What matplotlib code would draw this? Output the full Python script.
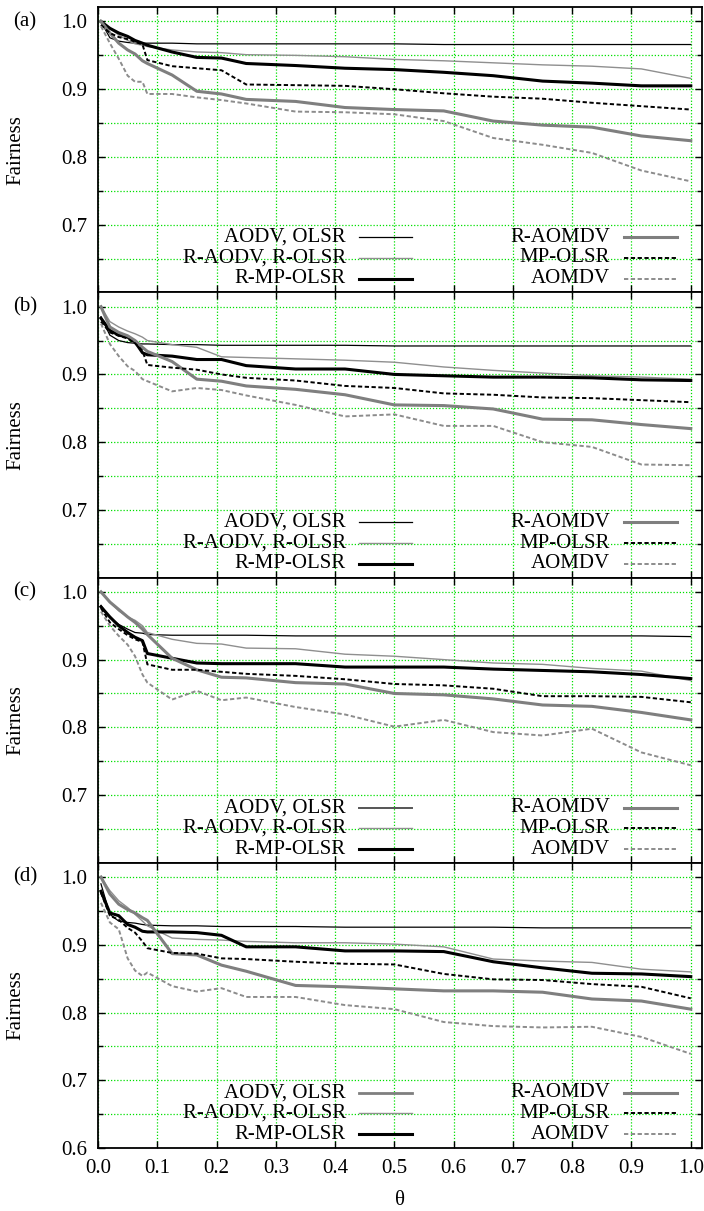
import numpy as np
import matplotlib.pyplot as plt
import matplotlib.transforms as mtransforms
from matplotlib.lines import Line2D
from matplotlib.ticker import MultipleLocator, FormatStrFormatter

plt.rcParams['font.family'] = ['Liberation Serif', 'DejaVu Serif']

# common theta grid
theta = [0.005, 0.02, 0.035, 0.05, 0.0625, 0.075, 0.0833, 0.125, 0.1667, 0.2083,
         0.25, 0.3333, 0.4167, 0.5, 0.5833, 0.6667, 0.75, 0.8333, 0.9167, 1.0]

names = ['AODV, OLSR', 'R-AODV, R-OLSR', 'R-MP-OLSR', 'R-AOMDV', 'MP-OLSR', 'AOMDV']

# panel (a)
a_aodv = [1.0, 0.976, 0.971, 0.969, 0.968, 0.968, 0.968, 0.968, 0.967, 0.967,
          0.967, 0.967, 0.967, 0.967, 0.966, 0.966, 0.966, 0.966, 0.966, 0.966]
a_raodv = [1.0, 0.99, 0.98, 0.972, 0.967, 0.965, 0.963, 0.958, 0.955, 0.954,
           0.951, 0.950, 0.948, 0.944, 0.942, 0.939, 0.936, 0.934, 0.930, 0.916]
a_rmpolsr = [1.0, 0.99, 0.983, 0.978, 0.972, 0.968, 0.965, 0.955, 0.947, 0.946,
             0.938, 0.935, 0.931, 0.929, 0.925, 0.920, 0.912, 0.909, 0.905, 0.905]
a_raomdv = [1.0, 0.983, 0.968, 0.958, 0.952, 0.942, 0.938, 0.921, 0.897, 0.893,
            0.885, 0.882, 0.873, 0.870, 0.868, 0.853, 0.847, 0.844, 0.831, 0.824]
a_mpolsr = [0.995, 0.983, 0.977, 0.974, 0.970, 0.966, 0.943, 0.934, 0.931, 0.928,
            0.907, 0.906, 0.905, 0.900, 0.894, 0.889, 0.886, 0.880, 0.875, 0.870]
a_aomdv = [0.993, 0.968, 0.945, 0.920, 0.911, 0.911, 0.893, 0.893, 0.888, 0.884,
           0.879, 0.867, 0.866, 0.863, 0.853, 0.828, 0.818, 0.806, 0.780, 0.764]

# panel (b)
b_aodv = [0.985, 0.958, 0.950, 0.947, 0.946, 0.945, 0.945, 0.944, 0.944, 0.943,
          0.943, 0.943, 0.943, 0.942, 0.942, 0.942, 0.942, 0.942, 0.942, 0.942]
b_raodv = [1.0, 0.978, 0.970, 0.964, 0.960, 0.955, 0.950, 0.944, 0.940, 0.926,
           0.925, 0.923, 0.921, 0.918, 0.911, 0.906, 0.902, 0.898, 0.896, 0.893]
b_rmpolsr = [0.983, 0.965, 0.958, 0.955, 0.948, 0.932, 0.929, 0.927, 0.922, 0.922,
             0.913, 0.908, 0.908, 0.900, 0.898, 0.896, 0.896, 0.895, 0.892, 0.891]
b_raomdv = [1.0, 0.970, 0.962, 0.957, 0.950, 0.940, 0.934, 0.919, 0.893, 0.890,
            0.883, 0.878, 0.870, 0.855, 0.854, 0.849, 0.834, 0.833, 0.826, 0.820]
b_mpolsr = [0.978, 0.962, 0.957, 0.953, 0.946, 0.935, 0.914, 0.910, 0.907, 0.900,
            0.895, 0.891, 0.883, 0.880, 0.872, 0.870, 0.866, 0.865, 0.862, 0.859]
b_aomdv = [0.975, 0.945, 0.927, 0.912, 0.905, 0.893, 0.890, 0.875, 0.880, 0.877,
           0.869, 0.855, 0.838, 0.841, 0.824, 0.824, 0.800, 0.793, 0.767, 0.766]

# panel (c)
c_aodv = [0.980, 0.962, 0.952, 0.945, 0.940, 0.939, 0.937, 0.936, 0.936, 0.936,
          0.936, 0.935, 0.935, 0.935, 0.935, 0.935, 0.935, 0.935, 0.935, 0.934]
c_raodv = [1.0, 0.985, 0.972, 0.963, 0.958, 0.950, 0.940, 0.930, 0.924, 0.923,
           0.917, 0.916, 0.908, 0.905, 0.900, 0.895, 0.893, 0.887, 0.883, 0.869]
c_rmpolsr = [0.978, 0.963, 0.950, 0.940, 0.933, 0.928, 0.909, 0.902, 0.895, 0.894,
             0.894, 0.894, 0.889, 0.889, 0.889, 0.886, 0.884, 0.882, 0.878, 0.872]
c_raomdv = [1.0, 0.985, 0.974, 0.963, 0.955, 0.945, 0.937, 0.902, 0.885, 0.874,
            0.873, 0.866, 0.864, 0.850, 0.848, 0.842, 0.833, 0.831, 0.822, 0.811]
c_mpolsr = [0.976, 0.955, 0.945, 0.936, 0.930, 0.926, 0.893, 0.885, 0.885, 0.882,
            0.879, 0.876, 0.871, 0.864, 0.862, 0.857, 0.846, 0.846, 0.845, 0.837]
c_aomdv = [0.971, 0.950, 0.935, 0.922, 0.905, 0.878, 0.866, 0.841, 0.854, 0.840,
           0.844, 0.830, 0.819, 0.801, 0.811, 0.793, 0.788, 0.798, 0.763, 0.744]

# panel (d)
d_aodv = [0.990, 0.945, 0.935, 0.933, 0.932, 0.930, 0.929, 0.928, 0.928, 0.927,
          0.927, 0.927, 0.926, 0.926, 0.926, 0.926, 0.925, 0.925, 0.925, 0.925]
d_raodv = [1.0, 0.980, 0.965, 0.955, 0.945, 0.935, 0.928, 0.910, 0.908, 0.907,
           0.905, 0.903, 0.903, 0.901, 0.897, 0.879, 0.876, 0.874, 0.864, 0.860]
d_rmpolsr = [0.979, 0.947, 0.943, 0.930, 0.926, 0.920, 0.919, 0.919, 0.918, 0.914,
             0.897, 0.897, 0.891, 0.891, 0.890, 0.875, 0.866, 0.858, 0.857, 0.853]
d_raomdv = [1.0, 0.975, 0.960, 0.952, 0.947, 0.940, 0.936, 0.887, 0.885, 0.870,
            0.861, 0.840, 0.838, 0.835, 0.832, 0.832, 0.830, 0.820, 0.817, 0.805]
d_mpolsr = [0.977, 0.943, 0.937, 0.925, 0.918, 0.905, 0.895, 0.888, 0.887, 0.880,
            0.879, 0.875, 0.872, 0.871, 0.857, 0.849, 0.848, 0.842, 0.838, 0.821]
d_aomdv = [0.962, 0.933, 0.923, 0.880, 0.862, 0.854, 0.859, 0.839, 0.831, 0.836,
           0.823, 0.823, 0.811, 0.805, 0.786, 0.780, 0.778, 0.779, 0.764, 0.739]

panels = [
    ('(a)', [a_aodv, a_raodv, a_rmpolsr, a_raomdv, a_mpolsr, a_aomdv]),
    ('(b)', [b_aodv, b_raodv, b_rmpolsr, b_raomdv, b_mpolsr, b_aomdv]),
    ('(c)', [c_aodv, c_raodv, c_rmpolsr, c_raomdv, c_mpolsr, c_aomdv]),
    ('(d)', [d_aodv, d_raodv, d_rmpolsr, d_raomdv, d_mpolsr, d_aomdv]),
]

dash = (0, (2.2, 1.3))
styles = [
    dict(color='black', lw=0.9),
    dict(color='#8f8f8f', lw=1.0),
    dict(color='black', lw=2.2),
    dict(color='#7f7f7f', lw=2.2),
    dict(color='black', lw=1.4, ls=dash),
    dict(color='#8c8c8c', lw=1.4, ls=dash),
]
green = '#00e000'
fs = 15

fig, axes = plt.subplots(4, 1, figsize=(7.04, 12.11), dpi=100, sharex=True)
fig.subplots_adjust(left=0.1392, right=0.9972, top=0.994, bottom=0.052, hspace=0)

leg_text_x = [0.410, 0.848]
leg_line_x = [(0.432, 0.520), (0.871, 0.958)]
leg_row_y = [0.1936, 0.1214, 0.0479]

for k, (ax, (label, series)) in enumerate(zip(axes, panels)):
    for name, y, st in zip(names, series, styles):
        ax.plot(theta, y, **st)

    ax.set_xlim(0, 1.019)
    ax.set_ylim(0.6, 1.021)
    ax.xaxis.set_major_locator(MultipleLocator(0.1))
    ax.xaxis.set_major_formatter(FormatStrFormatter('%.1f'))
    ax.yaxis.set_minor_locator(MultipleLocator(0.05))
    yt = [0.6, 0.7, 0.8, 0.9, 1.0]
    ax.set_yticks(yt)
    ax.set_yticklabels(['0.6' if k == 3 else ''] + ['%.1f' % v for v in yt[1:]])

    ax.grid(True, which='major', axis='both', color=green, ls=(0, (1, 1.5)), lw=0.9)
    ax.grid(True, which='minor', axis='y', color=green, ls=(0, (1, 1.5)), lw=0.9)
    ax.set_axisbelow(True)
    ax.tick_params(which='both', direction='in', top=True, right=True,
                   labelsize=fs, width=1.0)
    ax.tick_params(which='major', length=5, pad=8)
    ax.tick_params(which='minor', length=3.5)
    for sp in ax.spines.values():
        sp.set_linewidth(1.3)

    ax.set_ylabel('Fairness', fontsize=fs)
    ax.yaxis.set_label_coords(-0.121, 0.5)

    trans = mtransforms.blended_transform_factory(ax.transAxes, ax.transData)
    ax.text(-0.14, 1.0, label, transform=trans, ha='left', va='center', fontsize=fs)

    # legend, gnuplot style: text right-aligned, sample to the right
    for i, (name, st) in enumerate(zip(names, styles)):
        col, row = i // 3, i % 3
        yy = leg_row_y[row]
        ax.text(leg_text_x[col], yy, name, transform=ax.transAxes,
                ha='right', va='center', fontsize=fs)
        lst = dict(st)
        if i == 0 and k == 2:
            lst.update(color='#555555', lw=1.4)
        if i == 0 and k == 3:
            lst.update(color='#7f7f7f', lw=2.0)
        ax.add_line(Line2D(leg_line_x[col], [yy, yy], transform=ax.transAxes, **lst))

axes[-1].set_xlabel('θ', fontsize=fs, labelpad=9)

fig.savefig('out.png', dpi=100)
